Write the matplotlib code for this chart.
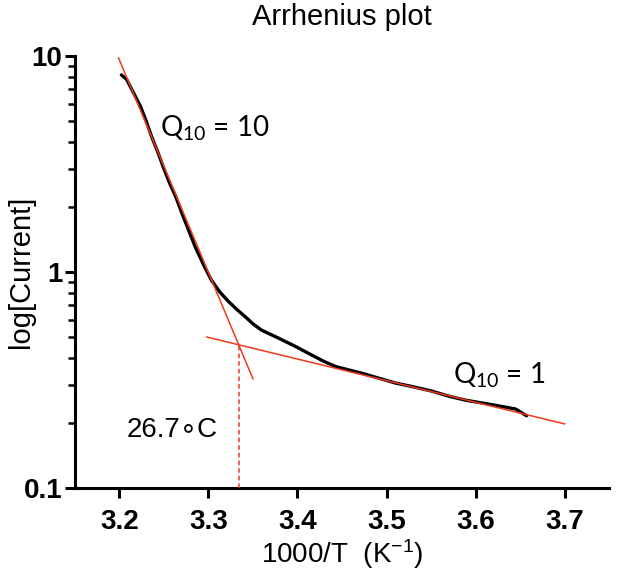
import matplotlib
matplotlib.use("Agg")
from matplotlib import pyplot as plt
from matplotlib.ticker import LogLocator, FixedLocator, NullFormatter

# measured trace, 1000/T vs current
inv_t = [3.2022, 3.2080, 3.2135, 3.2236, 3.2300, 3.2360, 3.2430, 3.2494, 3.2560,
         3.2629, 3.2700, 3.2780, 3.2854, 3.2950, 3.3034, 3.3125, 3.3225, 3.3320,
         3.3416, 3.3500, 3.3596, 3.3787, 3.3978, 3.4157, 3.4300, 3.4427, 3.4719,
         3.5101, 3.5300, 3.5506, 3.5700, 3.5888, 3.6258, 3.6450, 3.6573]
current = [8.17, 7.80, 7.05, 5.85, 5.00, 4.25, 3.60, 3.05, 2.60,
           2.25, 1.88, 1.55, 1.30, 1.07, 0.915, 0.810, 0.730, 0.670,
           0.619, 0.575, 0.538, 0.494, 0.452, 0.413, 0.385, 0.365, 0.340,
           0.306, 0.294, 0.281, 0.266, 0.255, 0.240, 0.232, 0.216]

# fitted lines
steep_x = [3.199, 3.350]
steep_y = [9.8, 0.32]
shallow_x = [3.298, 3.700]
shallow_y = [0.50, 0.198]

# crossover
cross_x = 3.334
cross_y = 0.462

x_ticks = [3.2, 3.3, 3.4, 3.5, 3.6, 3.7]
y_ticks = [0.1, 1, 10]
y_tick_labels = ["0.1", "1", "10"]

RED = "#f03a1e"
SANS = ["Liberation Sans", "DejaVu Sans"]
LATO = ["Lato", "DejaVu Sans"]

fig = plt.figure(figsize=(6.19, 5.83), dpi=100)
ax = fig.add_axes([0.121, 0.163, 0.863, 0.741])

ax.plot(inv_t, current, color="black", linewidth=2.4, solid_capstyle="round", zorder=2)
ax.plot(steep_x, steep_y, color=RED, linewidth=1.1, zorder=3)
ax.plot(shallow_x, shallow_y, color=RED, linewidth=1.1, zorder=3)
ax.plot([cross_x, cross_x], [0.1, cross_y], color=RED, linewidth=1.1,
        linestyle=(0, (3, 2)), zorder=3)

ax.set_yscale("log")
ax.set_xlim(3.15, 3.75)
ax.set_ylim(0.1, 10)

ax.xaxis.set_major_locator(FixedLocator(x_ticks))
ax.set_xticklabels(["%.1f" % v for v in x_ticks])
ax.yaxis.set_major_locator(FixedLocator(y_ticks))
ax.set_yticklabels(y_tick_labels)
ax.yaxis.set_minor_locator(LogLocator(base=10, subs=range(2, 10)))
ax.yaxis.set_minor_formatter(NullFormatter())

for sp in ["top", "right"]:
    ax.spines[sp].set_visible(False)
for sp in ["left", "bottom"]:
    ax.spines[sp].set_linewidth(2.2)

ax.tick_params(axis="both", which="major", direction="out", length=7, width=2.2)
ax.tick_params(axis="x", which="major", pad=8)
ax.tick_params(axis="y", which="major", pad=2)
ax.tick_params(axis="y", which="minor", direction="out", length=5, width=1.8)
for lab in ax.get_xticklabels() + ax.get_yticklabels():
    lab.set_family(SANS)
    lab.set_fontweight("bold")
    lab.set_fontsize(20)

ax.set_xlabel("1000/T  (K$\\mathregular{^{-1}}$)", family=SANS, fontsize=20, labelpad=2)
ax.set_ylabel("log[Current]", family=SANS, fontsize=21)
ax.yaxis.set_label_coords(-0.074, 0.5)
ax.set_title("Arrhenius plot", family=SANS, fontsize=21, pad=22)

ax.text(3.246, 4.64, "Q$\\mathregular{_{10}}$ = 10", family=LATO, fontsize=20,
        va="center", ha="left")
ax.text(3.575, 0.333, "Q$\\mathregular{_{10}}$ = 1", family=LATO, fontsize=20,
        va="center", ha="left")
ax.text(3.208, 0.186, "26.7\u2218C", family=SANS, fontsize=20, va="center", ha="left")

fig.savefig("out.png", dpi=100)
